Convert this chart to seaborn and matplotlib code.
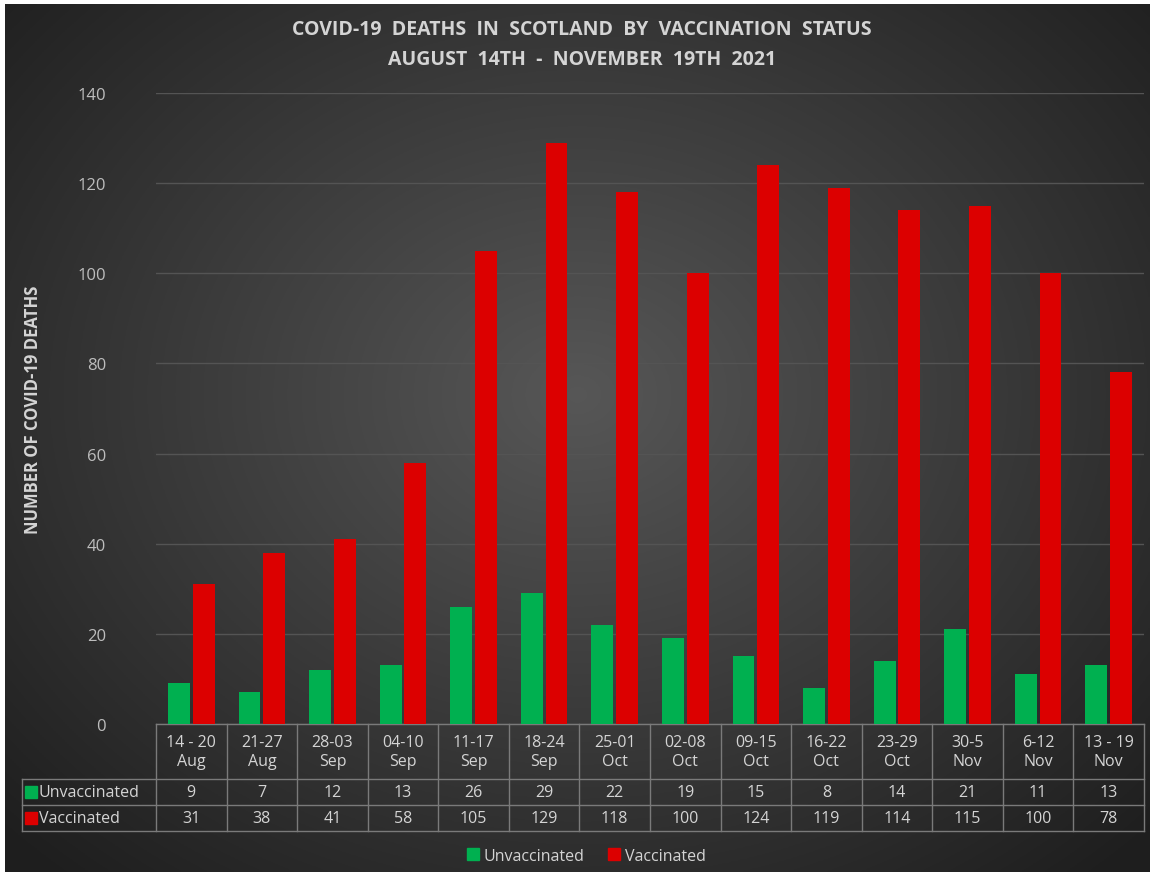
import numpy as np
import pandas as pd
import matplotlib
matplotlib.use("Agg")
import matplotlib.pyplot as plt
from matplotlib.transforms import blended_transform_factory
from matplotlib.lines import Line2D
import seaborn as sns

# data
weeks = ["14 - 20\nAug", "21-27\nAug", "28-03\nSep", "04-10\nSep", "11-17\nSep",
         "18-24\nSep", "25-01\nOct", "02-08\nOct", "09-15\nOct", "16-22\nOct",
         "23-29\nOct", "30-5\nNov", "6-12\nNov", "13 - 19\nNov"]
unvaccinated = [9, 7, 12, 13, 26, 29, 22, 19, 15, 8, 14, 21, 11, 13]
vaccinated = [31, 38, 41, 58, 105, 129, 118, 100, 124, 119, 114, 115, 100, 78]
statuses = ["Unvaccinated", "Vaccinated"]
colors = {"Unvaccinated": "#00b050", "Vaccinated": "#dc0000"}

df = pd.DataFrame({
    "week": weeks * 2,
    "status": ["Unvaccinated"] * len(weeks) + ["Vaccinated"] * len(weeks),
    "deaths": unvaccinated + vaccinated,
})

plt.rcParams["font.family"] = ["Open Sans", "DejaVu Sans"]
txt = "#d4d4d4"
grid = "#7a7a7a"

fig = plt.figure(figsize=(11.55, 8.78), dpi=100, facecolor="white")

# radial gradient background
bg = fig.add_axes([5 / 1155, 5 / 878, 1145 / 1155, 868 / 878])
yy, xx = np.mgrid[0:1:400j, 0:1:500j]
r = np.sqrt(((xx - 0.5) / 0.75) ** 2 + ((yy - 0.55) / 0.8) ** 2)
shade = np.clip(0.34 - 0.24 * r, 0.12, 0.34)
bg.imshow(np.dstack([shade] * 3), extent=[0, 1, 0, 1], aspect="auto", origin="lower")
bg.set_axis_off()

ax = fig.add_axes([156 / 1155, (878 - 725) / 878, 988 / 1155, 631 / 878])
ax.set_facecolor("none")
sns.barplot(data=df, x="week", y="deaths", hue="status", palette=colors,
            hue_order=statuses, width=0.7, gap=0.12, saturation=1,
            linewidth=0, legend=False, ax=ax, zorder=3)

ax.set_ylim(0, 140)
ax.set_xlim(-0.5, len(weeks) - 0.5)
ax.set_yticks(range(0, 141, 20))
ax.yaxis.grid(True, color="#545454", linewidth=1, zorder=0)
ax.set_axisbelow(True)
ax.tick_params(axis="y", length=0, pad=36, labelcolor="#bdbdbd", labelsize=12)
ax.tick_params(axis="x", length=0, labelbottom=False)
ax.set_xlabel("")
ax.set_ylabel("")
for s in ax.spines.values():
    s.set_visible(False)

# data table under the axis
tr = blended_transform_factory(ax.transData, ax.transAxes)
y_top, y_hdr, y_r1, y_r2 = 0.0, -0.087, -0.128, -0.170
x_left = (22 - 156) / 988
n = len(weeks)
lkw = dict(color=grid, linewidth=1, clip_on=False)
ax.add_line(Line2D([-0.5, n - 0.5], [y_top, y_top], transform=tr, **lkw))
for yv in (y_hdr, y_r1, y_r2):
    ax.add_line(Line2D([x_left, 1], [yv, yv], transform=ax.transAxes, **lkw))
for i in range(n + 1):
    ax.add_line(Line2D([i - 0.5, i - 0.5], [y_top, y_r2], transform=tr, **lkw))
ax.add_line(Line2D([x_left, x_left], [y_hdr, y_r2], transform=ax.transAxes, **lkw))

for i, w in enumerate(weeks):
    ax.text(i, (y_top + y_hdr) / 2, w, transform=tr, ha="center", va="center",
            color=txt, fontsize=11.5, linespacing=1.25)
    ax.text(i, (y_hdr + y_r1) / 2, str(unvaccinated[i]), transform=tr,
            ha="center", va="center", color=txt, fontsize=11.5)
    ax.text(i, (y_r1 + y_r2) / 2, str(vaccinated[i]), transform=tr,
            ha="center", va="center", color=txt, fontsize=11.5)

for yc, name in [((y_hdr + y_r1) / 2, "Unvaccinated"), ((y_r1 + y_r2) / 2, "Vaccinated")]:
    ax.plot([(31 - 156) / 988], [yc], marker="s", markersize=8, color=colors[name],
            transform=ax.transAxes, clip_on=False, linestyle="none")
    ax.text((39 - 156) / 988, yc, name, transform=ax.transAxes, ha="left",
            va="center", color=txt, fontsize=11.5)

# legend
handles = [Line2D([], [], marker="s", linestyle="none", markersize=8,
                  color=colors[s], label=s) for s in statuses]
fig.legend(handles=handles, loc="center", bbox_to_anchor=(0.506, 0.024), ncol=2,
           frameon=False, labelcolor=txt, fontsize=11.5, handletextpad=0.1,
           columnspacing=1.2, handlelength=1.2)

fig.text(0.504, 0.966, "COVID-19  DEATHS  IN  SCOTLAND  BY  VACCINATION  STATUS",
         ha="center", va="center", color=txt, fontsize=14, fontweight="bold")
fig.text(0.504, 0.932, "AUGUST  14TH  -  NOVEMBER  19TH  2021",
         ha="center", va="center", color=txt, fontsize=14, fontweight="bold")
fig.text(33 / 1155, (878 - 410) / 878, "NUMBER OF COVID-19 DEATHS", rotation=90,
         ha="center", va="center", color=txt, fontsize=12, fontweight="bold")

fig.savefig("out.png", dpi=100, facecolor="white")
